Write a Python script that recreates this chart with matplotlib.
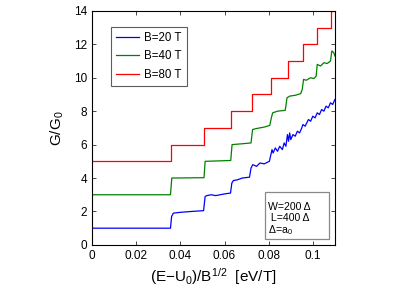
import matplotlib

matplotlib.use("Agg")
import matplotlib.pyplot as plt
from matplotlib.patches import Rectangle

plt.rcParams["font.family"] = ["Liberation Sans", "DejaVu Sans"]
plt.rcParams["mathtext.fontset"] = "custom"
plt.rcParams["mathtext.rm"] = "Liberation Sans"
plt.rcParams["mathtext.it"] = "Liberation Sans"

# B = 80 T: clean steps (step edges and plateau levels)
red_x = [0, 0.0357, 0.0509, 0.0631, 0.0725, 0.0810, 0.0889, 0.0957, 0.1021, 0.1082, 0.11]
red_y = [5, 6, 7, 8, 9, 10, 11, 12, 13, 14, 14]

# B = 40 T
green_x = [0, 0.0355, 0.0361, 0.0507, 0.0512, 0.0628, 0.0634, 0.0680, 0.0720, 0.0727,
           0.0740, 0.0780, 0.0805, 0.0812, 0.0818, 0.0840, 0.0875, 0.0883, 0.0895, 0.0920,
           0.0945, 0.0952, 0.0958, 0.0970, 0.0990, 0.1005, 0.1015, 0.1020, 0.1035, 0.1050,
           0.1065, 0.1080, 0.1086, 0.1095, 0.1100]
green_y = [3, 3, 4, 4.02, 5, 5.05, 6.0, 6.05, 6.1, 6.9,
           6.95, 7.05, 7.15, 7.6, 7.9, 8.0, 8.05, 8.8, 8.9, 8.95,
           9.05, 9.3, 9.9, 9.85, 10.0, 9.95, 10.1, 10.8, 10.7, 10.9,
           10.85, 11.0, 11.6, 11.5, 11.3]

# B = 20 T
blue_x = [0, 0.0355, 0.0360, 0.0368, 0.0400, 0.0450, 0.0505, 0.0512, 0.0520, 0.0540,
          0.0560, 0.0600, 0.0627, 0.0633, 0.0640, 0.0660, 0.0680, 0.0713, 0.0720, 0.0728,
          0.0745, 0.0760, 0.0780, 0.0803, 0.0810, 0.0815, 0.0820, 0.0830, 0.0840, 0.0850,
          0.0862, 0.0870, 0.0878, 0.0885, 0.0890, 0.0895, 0.0900, 0.0910, 0.0920, 0.0930,
          0.0940, 0.0950, 0.0955, 0.0965, 0.0980, 0.0990, 0.1000, 0.1010, 0.1020, 0.1030,
          0.1040, 0.1050, 0.1060, 0.1070, 0.1080, 0.1090, 0.1100]
blue_y = [1, 1, 1.7, 1.9, 1.95, 2.0, 2.05, 2.9, 2.95, 3.0,
          2.95, 3.05, 3.1, 3.7, 3.85, 3.9, 4.0, 4.05, 4.6, 4.8,
          4.7, 4.9, 4.85, 5.0, 5.4, 5.7, 5.5, 5.8, 5.6, 5.9,
          5.7, 6.1, 5.9, 6.6, 6.2, 6.7, 6.3, 6.6, 6.5, 6.8,
          6.7, 7.0, 7.2, 7.1, 7.5, 7.4, 7.7, 7.6, 7.9, 7.8,
          8.1, 8.0, 8.3, 8.2, 8.5, 8.4, 8.7]

labels = ["B=20 T", "B=40 T", "B=80 T"]
info_lines = ["W=200 \u0394", " L=400 \u0394", "\u0394=a$_0$"]

fig = plt.figure(figsize=(4.15, 2.94), dpi=100)
ax = fig.add_axes([0.222, 0.167, 0.585, 0.796])

ax.plot(blue_x, blue_y, color="#0000ff", lw=0.9, label=labels[0])
ax.plot(green_x, green_y, color="#008000", lw=0.9, label=labels[1])
ax.step(red_x, red_y, where="post", color="#ff0000", lw=0.9, label=labels[2])

ax.set_xlim(0, 0.11)
ax.set_ylim(0, 14)
ax.set_xticks([0, 0.02, 0.04, 0.06, 0.08, 0.1])
ax.set_xticklabels(["0", "0.02", "0.04", "0.06", "0.08", "0.1"])
ax.set_yticks(range(0, 15, 2))
ax.tick_params(direction="in", top=True, right=True, labelsize=8.5, length=3, width=0.5)
for s in ax.spines.values():
    s.set_linewidth(0.8)

ax.set_xlabel("(E\u2212U$_0$)/B$^{1/2}$  [eV/T]", fontsize=11, labelpad=3)
ax.set_ylabel("G/G$_0$", fontsize=11, labelpad=6)

leg = ax.legend(loc="upper left", bbox_to_anchor=(0.077, 0.932), borderaxespad=0,
                fontsize=8.3, frameon=True, fancybox=False, handlelength=2.0,
                borderpad=0.45, labelspacing=0.55, handletextpad=0.45)
leg.get_frame().set_edgecolor("#333333")
leg.get_frame().set_linewidth(0.8)

# info box
ax.add_patch(Rectangle((0.711, 0.024), 0.264, 0.204, transform=ax.transAxes,
                       facecolor="white", edgecolor="#888888", lw=0.9, zorder=5))
for i, line in enumerate(info_lines):
    ax.text(0.724, 0.164 - i * 0.05, line, transform=ax.transAxes, ha="left",
            va="center", fontsize=7.6, zorder=6)

fig.savefig("out.png", dpi=100)
plt.close(fig)
